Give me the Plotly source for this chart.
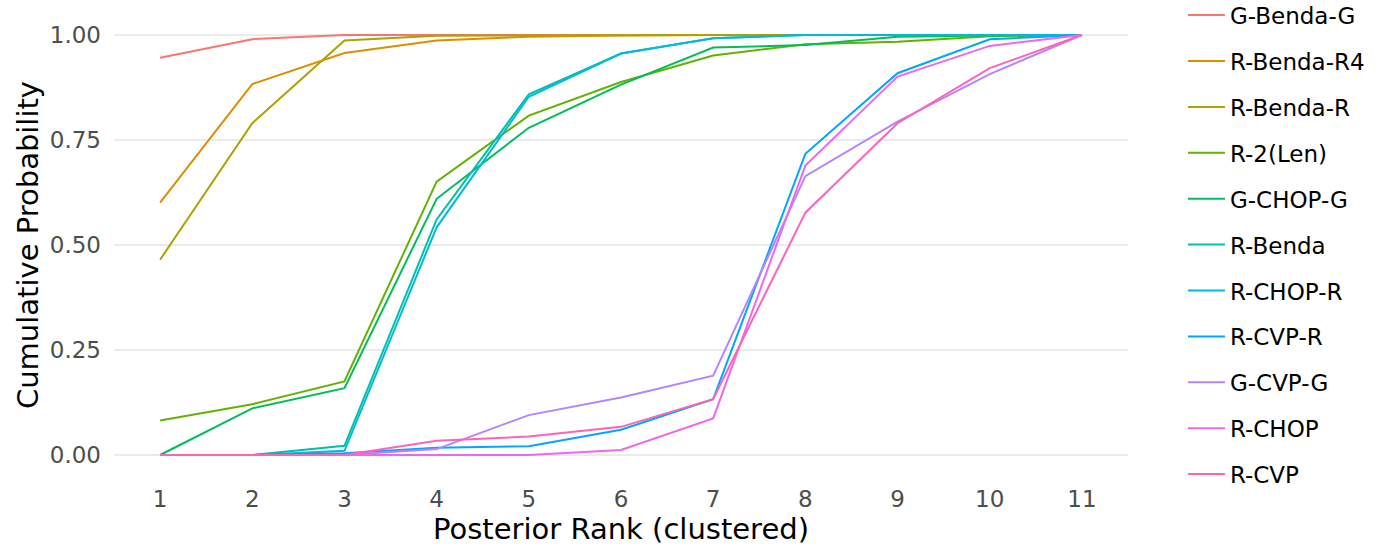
import plotly.graph_objects as go

# Posterior ranks
ranks = [1, 2, 3, 4, 5, 6, 7, 8, 9, 10, 11]

# Cumulative probability by treatment
g_benda_g = [0.946, 0.990, 1.000, 1.000, 1.000, 1.000, 1.000, 1.000, 1.000, 1.000, 1.000]
r_benda_r4 = [0.601, 0.883, 0.957, 0.987, 0.996, 0.999, 1.000, 1.000, 1.000, 1.000, 1.000]
r_benda_r = [0.465, 0.790, 0.987, 0.998, 0.999, 1.000, 1.000, 1.000, 1.000, 1.000, 1.000]
r_2_len = [0.082, 0.121, 0.175, 0.651, 0.808, 0.888, 0.951, 0.978, 0.984, 0.997, 1.000]
g_chop_g = [0.000, 0.111, 0.159, 0.610, 0.779, 0.882, 0.970, 0.976, 0.996, 0.999, 1.000]
r_benda = [0.000, 0.000, 0.022, 0.561, 0.859, 0.956, 0.992, 1.000, 1.000, 1.000, 1.000]
r_chop_r = [0.000, 0.000, 0.010, 0.542, 0.853, 0.956, 0.992, 1.000, 1.000, 1.000, 1.000]
r_cvp_r = [0.000, 0.000, 0.004, 0.017, 0.021, 0.060, 0.133, 0.717, 0.909, 0.990, 1.000]
g_cvp_g = [0.000, 0.000, 0.000, 0.014, 0.095, 0.137, 0.189, 0.664, 0.794, 0.907, 1.000]
r_chop = [0.000, 0.000, 0.000, 0.000, 0.000, 0.012, 0.087, 0.689, 0.901, 0.974, 1.000]
r_cvp = [0.000, 0.000, 0.000, 0.034, 0.044, 0.067, 0.133, 0.577, 0.790, 0.921, 1.000]

names = ['G-Benda-G', 'R-Benda-R4', 'R-Benda-R', 'R-2(Len)', 'G-CHOP-G', 'R-Benda',
         'R-CHOP-R', 'R-CVP-R', 'G-CVP-G', 'R-CHOP', 'R-CVP']
series = [g_benda_g, r_benda_r4, r_benda_r, r_2_len, g_chop_g, r_benda,
          r_chop_r, r_cvp_r, g_cvp_g, r_chop, r_cvp]
colors = ['#F8766D', '#DB8E00', '#AEA200', '#64B200', '#00BD5C', '#00C1A7',
          '#00BADE', '#00A6FF', '#B385FF', '#EF67EB', '#FF63B6']

fig = go.Figure()
for name, vals, col in zip(names, series, colors):
    fig.add_trace(go.Scatter(x=ranks, y=vals, mode='lines', name=name,
                             legendgroup=name,
                             line=dict(color=col, width=2)))

fig.update_layout(
    width=1400, height=560,
    margin=dict(l=114, r=272, t=14, b=84, autoexpand=False),
    plot_bgcolor='white', paper_bgcolor='white',
    font=dict(family='DejaVu Sans', color='black'),
    xaxis=dict(
        range=[0.5, 11.5], tickvals=ranks, ticktext=[str(r) for r in ranks],
        showgrid=False, zeroline=False, showline=False, ticks='',
        ticklabelstandoff=7,
        tickfont=dict(size=23, color='#4D4D4D'),
        title=dict(text='Posterior Rank (clustered)', font=dict(size=29), standoff=5),
    ),
    yaxis=dict(
        range=[-0.05, 1.05], tickvals=[0, 0.25, 0.5, 0.75, 1.0],
        ticktext=['0.00', '0.25', '0.50', '0.75', '1.00'],
        showgrid=True, gridcolor='#EBEBEB', gridwidth=1.5,
        zeroline=False, showline=False, ticks='',
        ticklabelstandoff=12,
        tickfont=dict(size=23, color='#4D4D4D'),
        title=dict(text='Cumulative Probability', font=dict(size=29), standoff=2),
    ),
    legend=dict(
        x=1.0542, xanchor='left', y=1.044, yanchor='top',
        font=dict(size=23), tracegroupgap=13, itemwidth=37, maxheight=560,
        bgcolor='rgba(0,0,0,0)',
    ),
)

# page body has a default 8px margin; drop it so the figure sits at 0,0
fig.write_html("out.html", config={'displayModeBar': False},
               post_script="document.body.style.margin='0';")
